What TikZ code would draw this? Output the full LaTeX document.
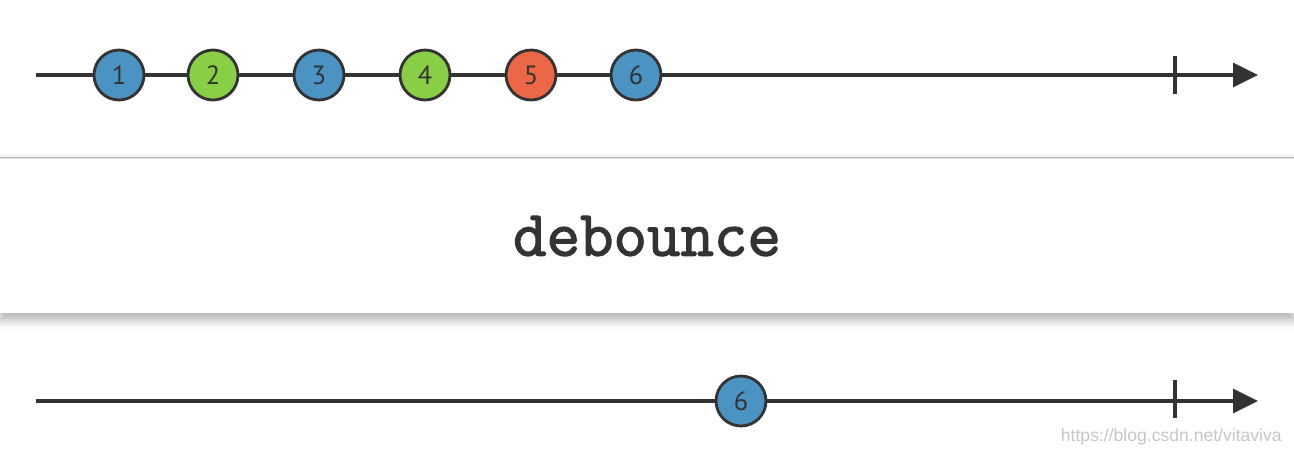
\documentclass[tikz,border=0pt]{standalone}
\usepackage{fontspec}
\newfontfamily\marblefont{PT Sans}
\newfontfamily\opfont[FakeBold=2]{Latin Modern Mono}
\newfontfamily\markfont{Liberation Sans}
\usetikzlibrary{arrows.meta,shadows.blur}

\definecolor{ink}{HTML}{333333}
\definecolor{mblue}{HTML}{4A93C2}
\definecolor{mgreen}{HTML}{89CF45}
\definecolor{mred}{HTML}{EC6745}

\begin{document}
\begin{tikzpicture}[
    x=0.02cm, y=-0.02cm,
    marble/.style={circle, draw=ink, line width=1.6pt, minimum size=1cm, inner sep=0pt, text=ink, font=\marblefont\fontsize{15}{17}\selectfont},
    timeline/.style={draw=ink, line width=1.8pt, -{Triangle[length=0.5cm, width=0.48cm]}},
    tick/.style={draw=ink, line width=1.8pt}
]
\useasboundingbox (0,0) rectangle (1294,454);
\fill[white] (0,0) rectangle (1294,454);

% input stream
\coordinate (inStart) at (36,75);
\coordinate (inEnd) at (1258,75);
\coordinate (inTickTop) at (1175,56);
\coordinate (inTickBot) at (1175,94);
\draw[timeline] (inStart) -- (inEnd);
\draw[tick] (inTickTop) -- (inTickBot);

\node[marble, fill=mblue] (in1) at (119,75) {1};
\node[marble, fill=mgreen] (in2) at (213,75) {2};
\node[marble, fill=mblue] (in3) at (319,75) {3};
\node[marble, fill=mgreen] (in4) at (425,75) {4};
\node[marble, fill=mred] (in5) at (531,75) {5};
\node[marble, fill=mblue] (in6) at (636,75) {6};

% operator box
\fill[black!4] (0,154) rectangle (1294,157);
\fill[black!9] (0,157) rectangle (1294,159);
\node[fill=white, minimum width=25.88cm, minimum height=3.08cm, inner sep=0pt,
      blur shadow={shadow xshift=0pt, shadow yshift=-4pt, shadow blur radius=5pt, shadow opacity=30},
      text=ink, font=\opfont\fontsize{37}{42}\selectfont] (op) at (647,236) {debounce};

% output stream
\coordinate (outStart) at (36,401);
\coordinate (outEnd) at (1258,401);
\coordinate (outTickTop) at (1175,380);
\coordinate (outTickBot) at (1175,418);
\draw[timeline] (outStart) -- (outEnd);
\draw[tick] (outTickTop) -- (outTickBot);

\node[marble, fill=mblue] (out6) at (741,401) {6};

\node[anchor=base east, text=black!22, inner sep=0pt, font=\markfont\fontsize{10}{12}\selectfont] (mark) at (1282,441) {https://blog.csdn.net/vitaviva};

\end{tikzpicture}
\end{document}
